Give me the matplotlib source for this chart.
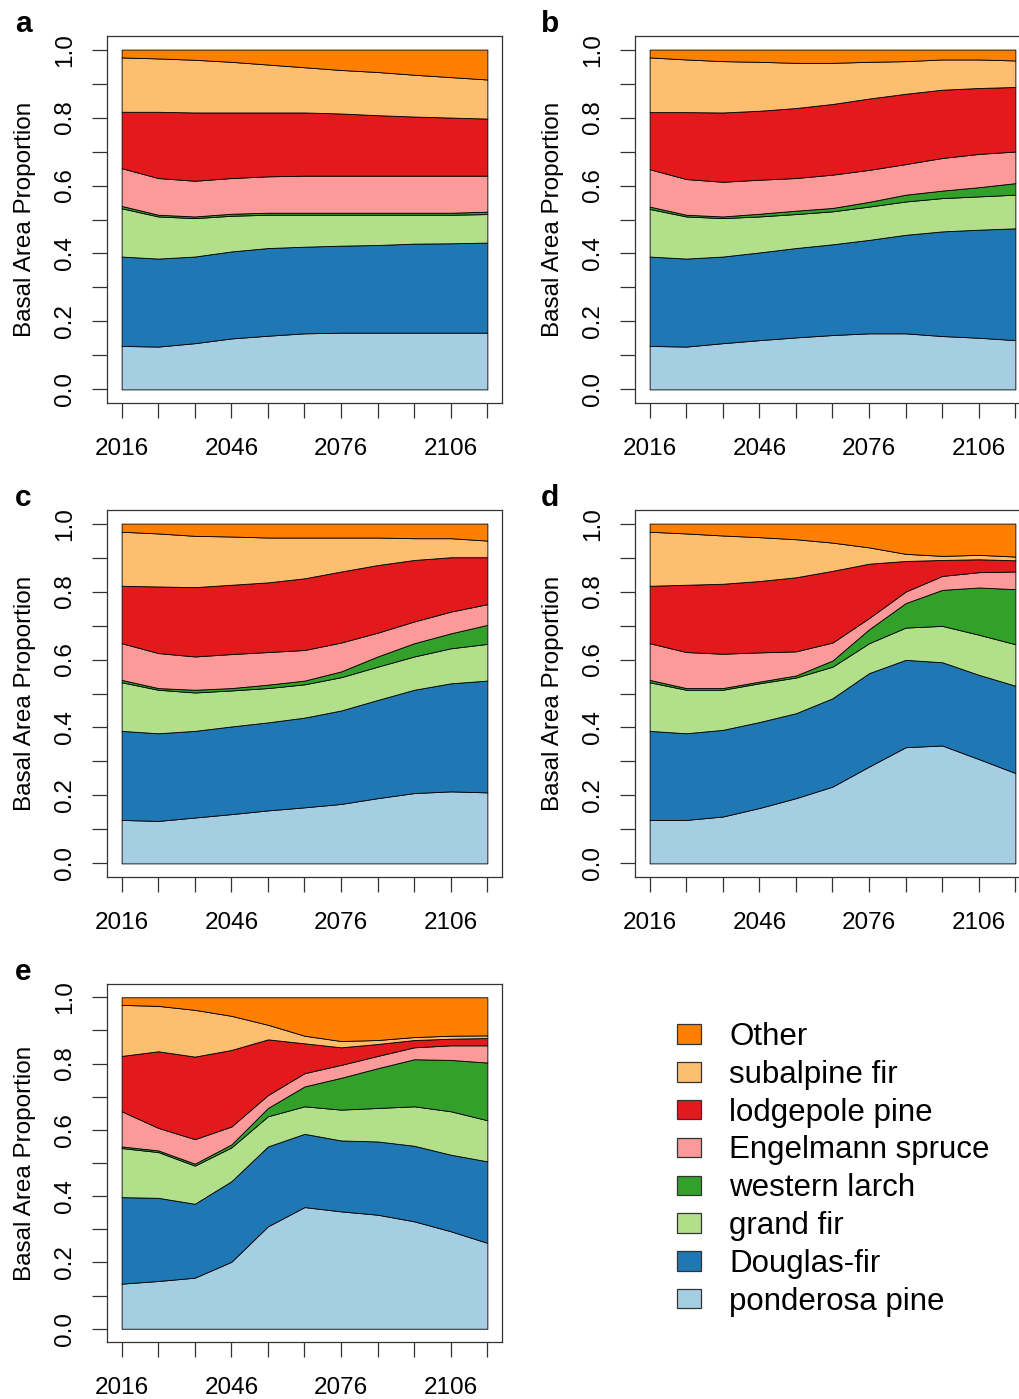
import numpy as np
import matplotlib
matplotlib.use("Agg")
import matplotlib.pyplot as plt
from matplotlib.patches import Patch

plt.rcParams['font.family'] = ['Liberation Sans', 'DejaVu Sans']

years = np.arange(2016, 2117, 10)

species = ["ponderosa pine", "Douglas-fir", "grand fir", "western larch",
           "Engelmann spruce", "lodgepole pine", "subalpine fir", "Other"]
colors = ["#A6CEE3", "#1F78B4", "#B2DF8A", "#33A02C",
          "#FB9A99", "#E31A1C", "#FDBF6F", "#FF7F00"]

# basal area share of each species per scenario, 2016..2116 every 10 years
# (rows in the same order as `species`, bottom of the stack first)
share_a = [
    [0.128, 0.126, 0.136, 0.150, 0.158, 0.165, 0.167, 0.167, 0.167, 0.167, 0.167],
    [0.263, 0.259, 0.255, 0.256, 0.258, 0.255, 0.256, 0.258, 0.262, 0.263, 0.265],
    [0.142, 0.124, 0.113, 0.105, 0.098, 0.094, 0.091, 0.089, 0.085, 0.084, 0.084],
    [0.007, 0.005, 0.005, 0.006, 0.006, 0.006, 0.006, 0.006, 0.006, 0.006, 0.007],
    [0.111, 0.108, 0.105, 0.105, 0.107, 0.109, 0.109, 0.109, 0.109, 0.109, 0.106],
    [0.166, 0.195, 0.201, 0.193, 0.188, 0.186, 0.183, 0.178, 0.174, 0.171, 0.168],
    [0.160, 0.157, 0.155, 0.149, 0.141, 0.133, 0.128, 0.127, 0.123, 0.119, 0.115],
    [0.023, 0.026, 0.030, 0.036, 0.044, 0.052, 0.060, 0.066, 0.074, 0.081, 0.088],
]
share_b = [
    [0.128, 0.126, 0.136, 0.145, 0.153, 0.160, 0.165, 0.165, 0.157, 0.152, 0.145],
    [0.263, 0.259, 0.255, 0.258, 0.263, 0.267, 0.275, 0.290, 0.308, 0.318, 0.329],
    [0.140, 0.124, 0.113, 0.106, 0.100, 0.097, 0.098, 0.098, 0.098, 0.098, 0.099],
    [0.007, 0.005, 0.005, 0.008, 0.010, 0.010, 0.014, 0.020, 0.022, 0.027, 0.034],
    [0.110, 0.105, 0.102, 0.100, 0.096, 0.098, 0.094, 0.090, 0.096, 0.098, 0.093],
    [0.168, 0.197, 0.204, 0.203, 0.206, 0.208, 0.210, 0.207, 0.201, 0.194, 0.190],
    [0.161, 0.155, 0.151, 0.144, 0.133, 0.121, 0.108, 0.096, 0.089, 0.084, 0.078],
    [0.023, 0.029, 0.034, 0.036, 0.039, 0.039, 0.036, 0.034, 0.029, 0.029, 0.032],
]
share_c = [
    [0.128, 0.125, 0.135, 0.145, 0.156, 0.165, 0.175, 0.192, 0.207, 0.212, 0.209],
    [0.262, 0.258, 0.255, 0.258, 0.259, 0.264, 0.275, 0.289, 0.304, 0.318, 0.329],
    [0.143, 0.128, 0.113, 0.106, 0.101, 0.098, 0.098, 0.098, 0.098, 0.103, 0.108],
    [0.007, 0.005, 0.008, 0.007, 0.010, 0.011, 0.017, 0.030, 0.039, 0.044, 0.056],
    [0.108, 0.103, 0.098, 0.100, 0.096, 0.090, 0.085, 0.070, 0.064, 0.064, 0.061],
    [0.169, 0.196, 0.204, 0.204, 0.205, 0.211, 0.209, 0.199, 0.181, 0.160, 0.138],
    [0.159, 0.156, 0.151, 0.142, 0.132, 0.120, 0.100, 0.081, 0.064, 0.056, 0.049],
    [0.024, 0.029, 0.036, 0.038, 0.041, 0.041, 0.041, 0.041, 0.043, 0.043, 0.050],
]
share_d = [
    [0.128, 0.128, 0.138, 0.163, 0.192, 0.226, 0.285, 0.342, 0.347, 0.307, 0.266],
    [0.262, 0.255, 0.255, 0.253, 0.250, 0.260, 0.275, 0.257, 0.245, 0.248, 0.257],
    [0.143, 0.128, 0.118, 0.114, 0.105, 0.093, 0.088, 0.095, 0.107, 0.118, 0.122],
    [0.007, 0.005, 0.005, 0.005, 0.006, 0.018, 0.041, 0.072, 0.106, 0.139, 0.162],
    [0.108, 0.106, 0.101, 0.086, 0.071, 0.053, 0.033, 0.034, 0.041, 0.045, 0.052],
    [0.169, 0.198, 0.206, 0.210, 0.218, 0.211, 0.160, 0.090, 0.047, 0.038, 0.033],
    [0.159, 0.151, 0.142, 0.129, 0.112, 0.083, 0.048, 0.021, 0.012, 0.013, 0.011],
    [0.024, 0.029, 0.035, 0.040, 0.046, 0.056, 0.070, 0.089, 0.095, 0.092, 0.097],
]
share_e = [
    [0.136, 0.144, 0.154, 0.202, 0.309, 0.367, 0.354, 0.344, 0.324, 0.294, 0.259],
    [0.261, 0.251, 0.223, 0.243, 0.241, 0.221, 0.214, 0.221, 0.228, 0.231, 0.246],
    [0.148, 0.138, 0.115, 0.102, 0.091, 0.083, 0.093, 0.101, 0.119, 0.131, 0.124],
    [0.005, 0.005, 0.006, 0.009, 0.025, 0.060, 0.096, 0.120, 0.142, 0.155, 0.174],
    [0.106, 0.068, 0.074, 0.054, 0.039, 0.040, 0.039, 0.037, 0.036, 0.044, 0.052],
    [0.167, 0.231, 0.249, 0.231, 0.168, 0.090, 0.053, 0.036, 0.022, 0.020, 0.022],
    [0.154, 0.137, 0.141, 0.103, 0.044, 0.023, 0.019, 0.012, 0.009, 0.009, 0.008],
    [0.023, 0.026, 0.038, 0.056, 0.083, 0.116, 0.132, 0.129, 0.120, 0.116, 0.115],
]

W, H = 1020, 1399
fig = plt.figure(figsize=(W / 100, H / 100), dpi=100)

# panel boxes in pixels: left, top, right, bottom
panels = [
    ("a", share_a, (107, 36, 502, 403)),
    ("b", share_b, (635, 36, 1030, 403)),
    ("c", share_c, (107, 510, 502, 877)),
    ("d", share_d, (635, 510, 1030, 877)),
    ("e", share_e, (107, 984, 502, 1342)),
]

edge = "#333333"
for letter, shares, (x0, y0, x1, y1) in panels:
    ax = fig.add_axes([x0 / W, 1 - y1 / H, (x1 - x0) / W, (y1 - y0) / H])
    ax.stackplot(years, *shares, colors=colors, edgecolor="black", linewidth=0.6)
    ax.set_xlim(2012, 2120)
    ax.set_ylim(-0.04, 1.04)

    ax.set_xticks(years)
    ax.set_xticklabels([str(y) if y in (2016, 2046, 2076, 2106) else "" for y in years])
    yt = np.round(np.arange(0, 1.01, 0.1), 1)
    ax.set_yticks(yt)
    ax.set_yticklabels([f"{v:.1f}" if i % 2 == 0 else "" for i, v in enumerate(yt)],
                       rotation=90, va="center")
    ax.tick_params(axis="both", length=11, width=0.9, color=edge, labelsize=17.5)
    ax.tick_params(axis="x", pad=14)
    ax.tick_params(axis="y", pad=11)
    for s in ax.spines.values():
        s.set_color(edge)
        s.set_linewidth(0.9)

    ax.set_ylabel("Basal Area Proportion", fontsize=17.5)
    ax.yaxis.set_label_coords(-0.18, 0.5)

    lx = 23 if x0 < 500 else 550
    fig.text(lx / W, 1 - (y0 - 4) / H, letter, fontsize=21.5, fontweight="bold",
             ha="center", va="baseline")

handles = [Patch(facecolor=c, edgecolor=edge, linewidth=0.9) for c in colors[::-1]]
fig.legend(handles, species[::-1], loc="upper left",
           bbox_to_anchor=(677 / W, 1 - 1022 / H), frameon=False,
           fontsize=22.5, handlelength=0.77, handleheight=0.58,
           handletextpad=0.9, labelspacing=0.25, borderpad=0, borderaxespad=0)

fig.savefig("out.png", dpi=100)
